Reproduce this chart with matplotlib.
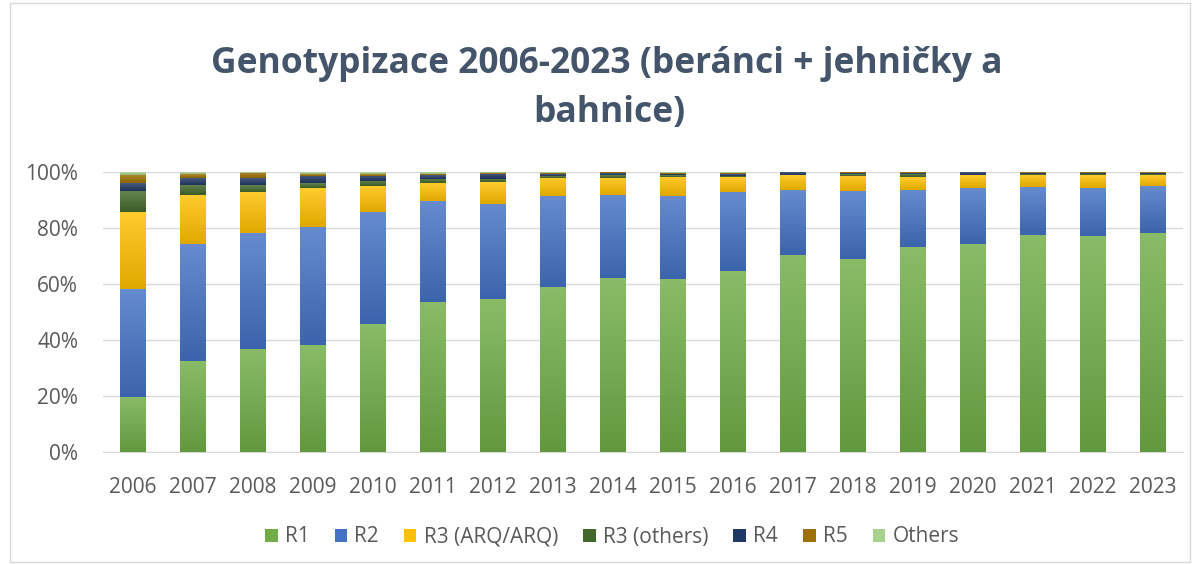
import matplotlib
matplotlib.use("Agg")
import matplotlib.pyplot as plt
import numpy as np
from matplotlib.colors import to_rgb
from matplotlib.patches import Patch, Rectangle
from matplotlib.ticker import PercentFormatter

plt.rcParams['font.family'] = ['Open Sans', 'DejaVu Sans']

years = [str(y) for y in range(2006, 2024)]

# shares in % per year
r1 = [19.6, 32.5, 36.8, 38.2, 45.7, 53.6, 54.6, 58.9, 62.1, 61.8, 64.6, 70.4, 68.9, 73.2, 74.3, 77.5, 77.1, 78.2]
r2 = [38.6, 41.8, 41.4, 42.2, 40.0, 36.0, 34.0, 32.5, 29.7, 29.6, 28.3, 23.2, 24.3, 20.4, 20.0, 17.1, 17.2, 16.8]
r3_arq = [27.5, 17.5, 14.7, 13.9, 9.3, 6.4, 7.8, 6.5, 6.1, 6.8, 5.3, 5.3, 5.4, 4.6, 4.6, 4.3, 4.6, 3.9]
r3_oth = [7.5, 3.6, 2.5, 1.7, 1.8, 1.5, 1.1, 0.7, 1.0, 0.7, 0.4, 0.2, 0.7, 1.1, 0.2, 0.4, 0.4, 0.4]
r4 = [2.8, 2.5, 2.5, 2.6, 1.8, 1.4, 1.8, 0.7, 0.6, 0.5, 0.7, 0.8, 0.3, 0.2, 0.9, 0.5, 0.2, 0.5]
r5 = [3.0, 1.4, 1.8, 0.7, 0.7, 0.4, 0.3, 0.5, 0.4, 0.4, 0.5, 0.1, 0.4, 0.5, 0.0, 0.2, 0.5, 0.2]
others = [1.0, 0.7, 0.3, 0.7, 0.7, 0.7, 0.4, 0.2, 0.1, 0.2, 0.2, 0.0, 0.0, 0.0, 0.0, 0.0, 0.0, 0.0]

labels = ['R1', 'R2', 'R3 (ARQ/ARQ)', 'R3 (others)', 'R4', 'R5', 'Others']
colors = ['#70AD47', '#4472C4', '#FFC000', '#43682B', '#203864', '#9E7000', '#A9D18E']
series = [r1, r2, r3_arq, r3_oth, r4, r5, others]

data = np.array(series, dtype=float)
data = data / data.sum(axis=0) * 100


def grad(c, n=64):
    # excel-like vertical gradient: lighter at the top, a bit darker at the bottom
    c = np.array(to_rgb(c))
    top = c + (1 - c) * 0.18
    bot = c * 0.88
    t = np.linspace(0, 1, n)[:, None]
    g = top * (1 - t) + bot * t
    return g[:, None, :]


fig = plt.figure(figsize=(12, 5.65), dpi=100)
ax = fig.add_axes([103 / 1200, 1 - 452 / 565, 1080 / 1200, 280 / 565])

x = np.arange(len(years))
bottom = np.zeros(len(years))
for vals, col in zip(data, colors):
    bars = ax.bar(x, vals, 0.42, bottom=bottom, color=col, zorder=2, linewidth=0)
    g = grad(col)
    for b in bars:
        x0, y0 = b.get_x(), b.get_y()
        w, h = b.get_width(), b.get_height()
        if h <= 0:
            continue
        ax.imshow(g, extent=[x0, x0 + w, y0, y0 + h], aspect='auto',
                  interpolation='bilinear', zorder=3)
    bottom += vals

ax.set_xlim(-0.5, len(years) - 0.5)
ax.set_ylim(0, 100)
ax.set_yticks(np.arange(0, 101, 20))
ax.yaxis.set_major_formatter(PercentFormatter(decimals=0))
ax.set_xticks(x)
ax.set_xticklabels(years)
ax.grid(axis='y', color='#D9D9D9', linewidth=1, zorder=0)
ax.set_axisbelow(True)
for s in ['top', 'right', 'left']:
    ax.spines[s].set_visible(False)
ax.spines['bottom'].set_color('#D9D9D9')
ax.tick_params(axis='both', length=0, labelsize=15, colors='#595959')
ax.tick_params(axis='x', pad=18)
ax.tick_params(axis='y', pad=18)

fig.text(0.506, 1 - 64 / 565, 'Genotypizace 2006-2023 (beránci + jehničky a', ha='center', va='center',
         fontsize=25.5, fontweight='bold', color='#44546A')
fig.text(0.508, 1 - 113 / 565, 'bahnice)', ha='center', va='center',
         fontsize=25.5, fontweight='bold', color='#44546A')

handles = [Patch(facecolor=c, edgecolor='none') for c in colors]
leg = fig.legend(handles, labels, loc='center', bbox_to_anchor=(0.51, 1 - 537 / 565), ncol=7,
                 frameon=False, fontsize=15, handlelength=0.6, handleheight=0.6,
                 handletextpad=0.35, columnspacing=1.2)
for t in leg.get_texts():
    t.set_color('#595959')

fig.patches.append(Rectangle((0.008, 0.005), 0.984, 0.99, transform=fig.transFigure,
                             fill=False, edgecolor='#D9D9D9', linewidth=1))

fig.savefig('out.png', dpi=100)
